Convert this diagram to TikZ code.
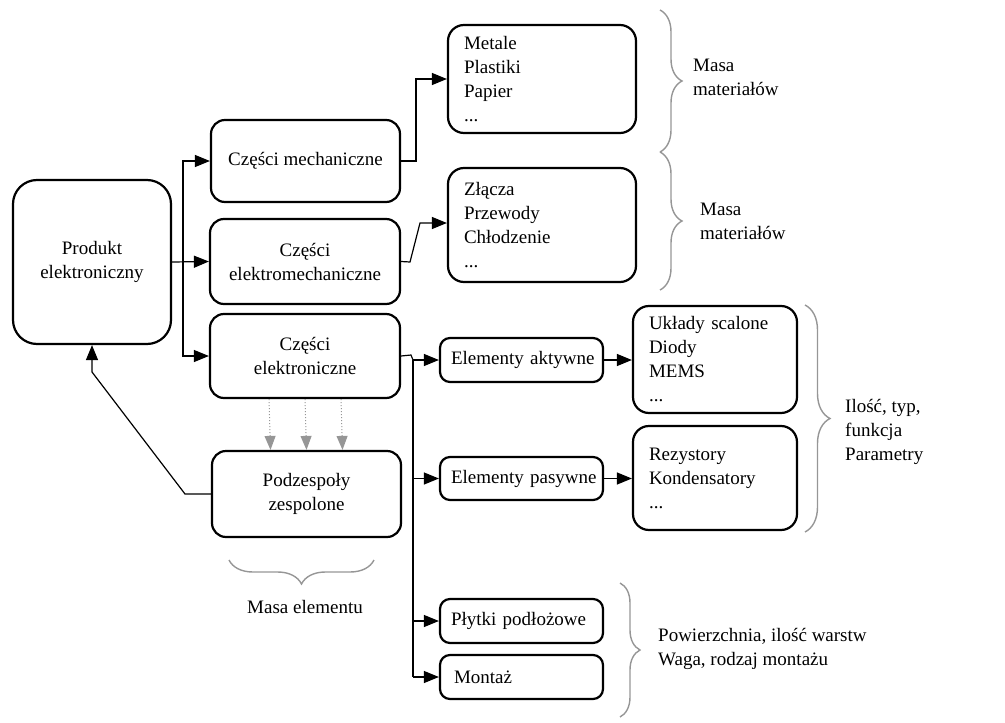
\documentclass[tikz,border=0pt]{standalone}
\usepackage{fontspec}
\setmainfont{Liberation Serif}
\usetikzlibrary{arrows.meta,calc,decorations.pathreplacing}
\definecolor{bracegray}{RGB}{150,150,150}
\begin{document}
\begin{tikzpicture}[x=1pt,y=-1pt,
  font=\fontsize{19}{24}\selectfont,
  box/.style={draw=black, line width=2.2pt, rounded corners=14pt, inner sep=0pt, align=center},
  lbox/.style={draw=black, line width=2.2pt, rounded corners=16pt, inner sep=0pt, inner xsep=16pt, align=left},
  sbox/.style={draw=black, line width=2.2pt, rounded corners=10pt, inner sep=0pt, inner xsep=11pt, align=left, text width=141pt, minimum height=44pt},
  conn/.style={line width=1.2pt, -{Triangle[length=15pt,width=12pt]}},
  plain/.style={line width=1.2pt},
  dotarrow/.style={draw=bracegray, line width=1pt, dotted, -{Triangle[length=14pt,width=11pt]}},
  curly/.style={draw=bracegray, line width=1.4pt, decorate, decoration={brace, amplitude=#1}},
  lbl/.style={align=left, anchor=west, inner sep=0pt}
]
\useasboundingbox (0,0) rectangle (1005,723);

% main nodes
\node[box, rounded corners=24pt, minimum width=158pt, minimum height=164pt] (prod) at (92,262) {Produkt\\elektroniczny};
\node[box, minimum width=189pt, minimum height=82pt] (mech) at (305.5,161) {Części mechaniczne};
\node[box, minimum width=190pt, minimum height=85pt] (elmech) at (305,261.5) {Części\\elektromechaniczne};
\node[box, minimum width=190pt, minimum height=84pt] (elec) at (305,356) {Części\\elektroniczne};
\node[box, minimum width=189pt, minimum height=86pt] (pod) at (306.5,494) {Podzespoły\\zespolone};

\node[lbox, text width=156pt, minimum height=108pt] (met) at (542,79) {Metale\\Plastiki\\Papier\\...};
\node[lbox, text width=156pt, minimum height=114pt] (zl) at (542,225) {Złącza\\Przewody\\Chłodzenie\\...};

\node[sbox] (akt) at (521.5,360) {\mbox{Elementy aktywne}};
\node[sbox, minimum height=43pt] (pas) at (521.5,478.5) {\mbox{Elementy pasywne}};
\node[sbox] (ply) at (521.5,621) {\mbox{Płytki podłożowe}};
\node[sbox, inner xsep=14pt, text width=135pt] (mon) at (521.5,677) {\mbox{Montaż}};

\node[lbox, text width=132pt, minimum height=107pt] (uk) at (715,359.5) {Układy scalone\\Diody\\MEMS\\...};
\node[lbox, text width=132pt, minimum height=104pt] (rez) at (715,478) {Rezystory\\Kondensatory\\...};

% labels
\node[lbl] (m1) at (693,77) {Masa\\materiałów};
\node[lbl] (m2) at (700,221) {Masa\\materiałów};
\node[lbl] (ilosc) at (845,432) {Ilość, typ,\\funkcja\\Parametry};
\node[lbl] (pow) at (658,649) {Powierzchnia, ilość warstw\\Waga, rodzaj montażu};
\node[inner sep=0pt] (me) at (305,607) {Masa elementu};

% braces
\coordinate (b1a) at (660,10);  \coordinate (b1b) at (660,152);
\coordinate (b2a) at (660,152); \coordinate (b2b) at (660,290);
\coordinate (b3a) at (805,305); \coordinate (b3b) at (805,532);
\coordinate (b4a) at (620,583); \coordinate (b4b) at (620,717);
\coordinate (b5a) at (374,560); \coordinate (b5b) at (229,560);
\draw[curly=22pt] (b1a) -- (b1b);
\draw[curly=22pt] (b2a) -- (b2b);
\draw[curly=25pt] (b3a) -- (b3b);
\draw[curly=20pt] (b4a) -- (b4b);
\draw[curly=24pt] (b5a) -- (b5b);

% connectors from Produkt
\coordinate (j1) at (183,262);
\draw[conn] (prod.east) -- (elmech.west);
\draw[conn] (j1) |- (mech.west);
\draw[conn] (j1) |- (elec.west);

% to material boxes
\coordinate (j2) at (416,161);
\draw[conn] (mech.east) -- (j2) |- (met.west);
\coordinate (j3a) at (410,262);
\coordinate (j3b) at (420,223);
\draw[conn] (elmech.east) -- (j3a) -- (j3b) -- (zl.west |- j3b);

% electronic branch
\coordinate (j4) at (411,355);
\coordinate (j5) at (413,360);
\coordinate (j6) at (413,677);
\draw[plain] (elec.east) -- (j4) -- (j5);
\draw[conn] (j5) -- (akt.west);
\draw[plain] (j5) -- (j6);
\draw[conn] (j5 |- pas.west) -- (pas.west);
\draw[conn] (j5 |- ply.west) -- (ply.west);
\draw[conn] (j6) -- (mon.west);
\draw[conn] (akt.east) -- (uk.west |- akt.east);
\draw[conn] (pas.east) -- (rez.west |- pas.east);

% dotted gray arrows
\foreach \dx in {-36,0,36}{
  \draw[dotarrow] ($(elec.south)+(\dx,0)$) -- ($(pod.north)+(\dx,0)$);
}

% feedback
\coordinate (f1) at (185,494);
\coordinate (f2) at (92,372);
\draw[conn] (pod.west) -- (f1) -- (f2) -- (prod.south);
\end{tikzpicture}
\end{document}
